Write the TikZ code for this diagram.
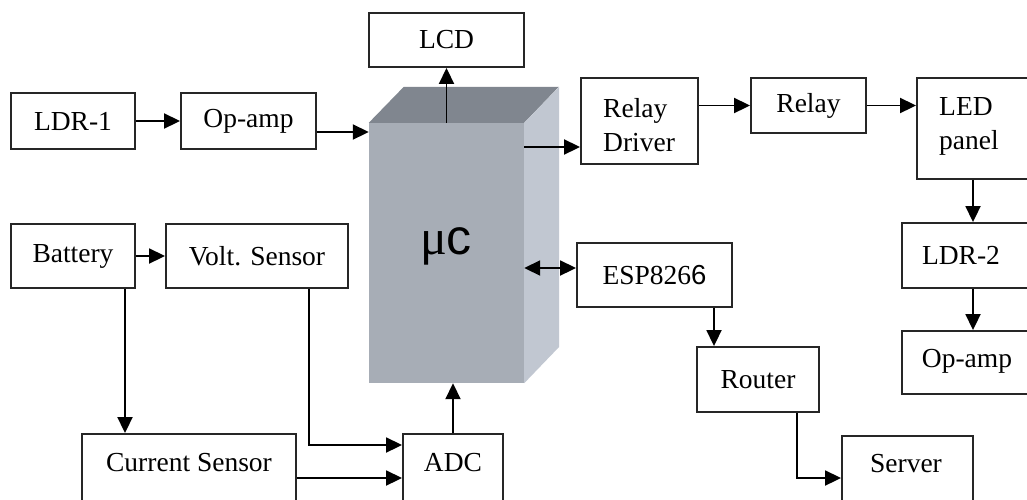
\documentclass[tikz,border=0pt]{standalone}
\usepackage{fontspec}
\setmainfont{Liberation Serif}
\newfontfamily\arialf{Liberation Sans}
\usetikzlibrary{arrows.meta,calc}
\definecolor{cfront}{HTML}{A7ADB6}
\definecolor{ctop}{HTML}{80868F}
\definecolor{cside}{HTML}{C1C7D1}
\begin{document}
\begin{tikzpicture}[x=1pt,y=-1pt,
  every node/.style={font=\fontsize{27.5}{34}\selectfont},
  box/.style={draw=black!85, line width=1.9pt, inner sep=0pt, fill=white},
  arr/.style={line width=1.9pt, -{Triangle[length=16pt,width=15pt]}},
  darr/.style={line width=1.9pt, {Triangle[length=16pt,width=15pt]}-{Triangle[length=16pt,width=15pt]}},
  txt/.style={inner sep=0pt}]
\clip (0,0) rectangle (1027,499);
\fill[white] (0,0) rectangle (1027,499);

% micro-controller cube
\node[fill=cfront, minimum width=155pt, minimum height=260pt, inner sep=0pt] (mc) at (446.5,253) {};
\fill[ctop] (mc.north west) -- ++(35,-36) -- ++(155,0) -- (mc.north east) -- cycle;
\fill[cside] (mc.north east) -- ++(35,-36) -- ++(0,260) -- (mc.south east) -- cycle;
\node[txt, font=\fontsize{50}{54}\selectfont] (mclbl) at (446,246) {μ\kern-1pt{\arialf c}};

% boxes
\node[box, minimum width=155pt, minimum height=54pt] (lcd) at (446.5,40) {LCD};
\node[box, minimum width=124pt, minimum height=56pt] (ldr1) at (73,121) {LDR-1};
\node[box, minimum width=135pt, minimum height=56pt] (op1) at (248.5,121) {Op-amp};
\node[box, minimum width=124pt, minimum height=64pt] (bat) at (73,256) {Battery};
\node[box, minimum width=182pt, minimum height=64pt] (volt) at (257,256) {Volt. Sensor};
\node[box, minimum width=214pt, minimum height=88pt] (cur) at (189,478) {};
\node[txt] (curt) at (189,463) {Current Sensor};
\node[box, minimum width=100pt, minimum height=88pt] (adc) at (453,478) {};
\node[txt] (adct) at (453,463) {ADC};
\node[box, minimum width=117pt, minimum height=86pt] (rd) at (639.5,121) {};
\node[txt, anchor=west, align=left] (rdt) at (603,125) {Relay\\Driver};
\node[box, minimum width=115pt, minimum height=55pt] (relay) at (808.5,105.5) {Relay};
\node[box, minimum width=128pt, minimum height=101pt] (led) at (981,128.5) {};
\node[txt, anchor=west, align=left] (ledt) at (939,126) {LED\\panel};
\node[box, minimum width=143pt, minimum height=65pt] (ldr2) at (973.5,255.5) {};
\node[txt] (ldr2t) at (961,255) {LDR-2};
\node[box, minimum width=143pt, minimum height=63pt] (op2) at (973.5,362.5) {};
\node[txt] (op2t) at (967,361) {Op-amp};
\node[box, minimum width=155pt, minimum height=64pt] (esp) at (654.5,275) {ESP826{\arialf 6}};
\node[box, minimum width=122pt, minimum height=65pt] (router) at (758,379.5) {Router};
\node[box, minimum width=131pt, minimum height=84pt] (server) at (907.5,478) {};
\node[txt] (servert) at (906,464) {Server};

% helper coordinates
\coordinate (xled) at (973,0);
\coordinate (xesp) at (714,0);
\coordinate (xrt) at (797,0);
\coordinate (xbat) at (125,0);
\coordinate (xvolt) at (309,0);

% connectors
\draw[arr] (ldr1.east) -- (op1.west);
\draw[arr] ([yshift=-11pt]op1.east) -- ([yshift=-11pt]op1.east -| mc.west);
\draw[arr] (mc.north) -- (lcd.south);
\draw[arr] ([yshift=-26pt]rd.west -| mc.east) -- ([yshift=-26pt]rd.west);
\draw[darr] ([yshift=7pt]esp.west -| mc.east) -- ([yshift=7pt]esp.west);
\draw[arr] (relay.west -| rd.east) -- (relay.west);
\draw[arr] (relay.east) -- (relay.east -| led.west);
\draw[arr] (led.south -| xled) -- (ldr2.north -| xled);
\draw[arr] (ldr2.south -| xled) -- (op2.north -| xled);
\draw[arr] (esp.south -| xesp) -- (router.north -| xesp);
\draw[arr] (router.south -| xrt) |- (server.west);
\draw[arr] (bat.east) -- (volt.west);
\draw[arr] (bat.south -| xbat) -- (cur.north -| xbat);
\draw[arr] (volt.south -| xvolt) |- ([yshift=33pt]adc.west);
\draw[arr] (cur.east) -- (adc.west);
\draw[arr] (adc.north) -- (adc.north |- mc.south);
\end{tikzpicture}
\end{document}
